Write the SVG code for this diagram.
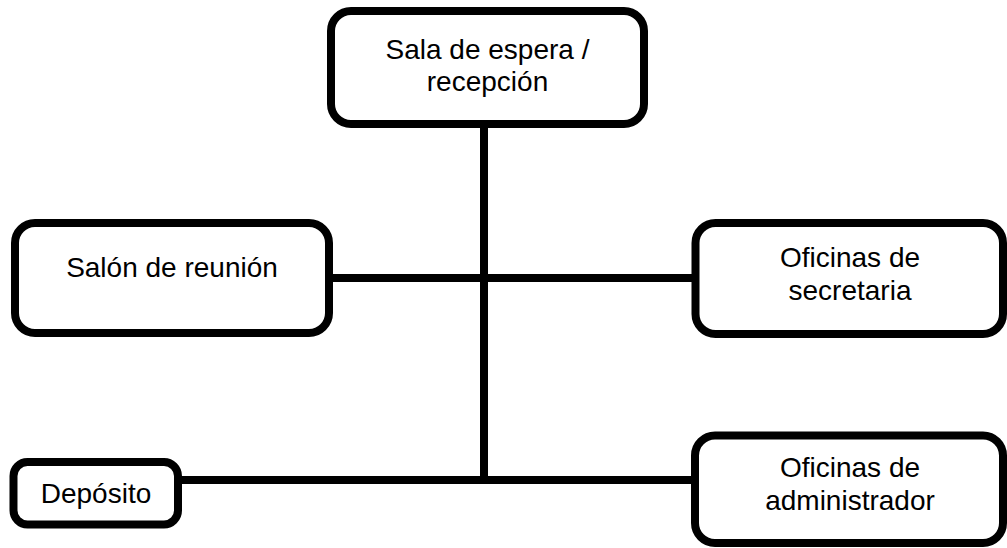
<svg xmlns="http://www.w3.org/2000/svg" width="1007" height="548" viewBox="0 0 1007 548">
<style>
.box{fill:#fff;stroke:#000;stroke-width:8}
.lbl{font-family:"Liberation Sans",Arial,sans-serif;font-size:28px;fill:#000;text-anchor:middle}
.conn{stroke:#000;stroke-width:8;fill:none}
</style>
<rect width="1007" height="548" fill="#fff"/>
<g id="connectors">
<line class="conn" x1="484" y1="124" x2="484" y2="484"/>
<line class="conn" x1="329" y1="278" x2="695" y2="278"/>
<line class="conn" x1="178" y1="480" x2="695" y2="480"/>
</g>
<g id="sala">
<rect class="box" x="331" y="11" width="313" height="113" rx="20"/>
<text class="lbl" x="487.5" y="59">Sala de espera /</text>
<text class="lbl" x="487.5" y="91">recepción</text>
</g>
<g id="salon">
<rect class="box" x="15" y="223" width="314" height="110" rx="20"/>
<text class="lbl" x="172" y="277">Salón de reunión</text>
</g>
<g id="secretaria">
<rect class="box" x="695.5" y="223" width="307.5" height="111" rx="20"/>
<text class="lbl" x="850" y="267">Oficinas de</text>
<text class="lbl" x="850" y="300">secretaria</text>
</g>
<g id="deposito">
<rect class="box" x="13.5" y="462" width="164.5" height="62.5" rx="14"/>
<text class="lbl" x="96" y="503">Depósito</text>
</g>
<g id="administrador">
<rect class="box" x="695" y="435.5" width="308" height="107.5" rx="20"/>
<text class="lbl" x="850" y="477">Oficinas de</text>
<text class="lbl" x="850" y="510">administrador</text>
</g>
</svg>
